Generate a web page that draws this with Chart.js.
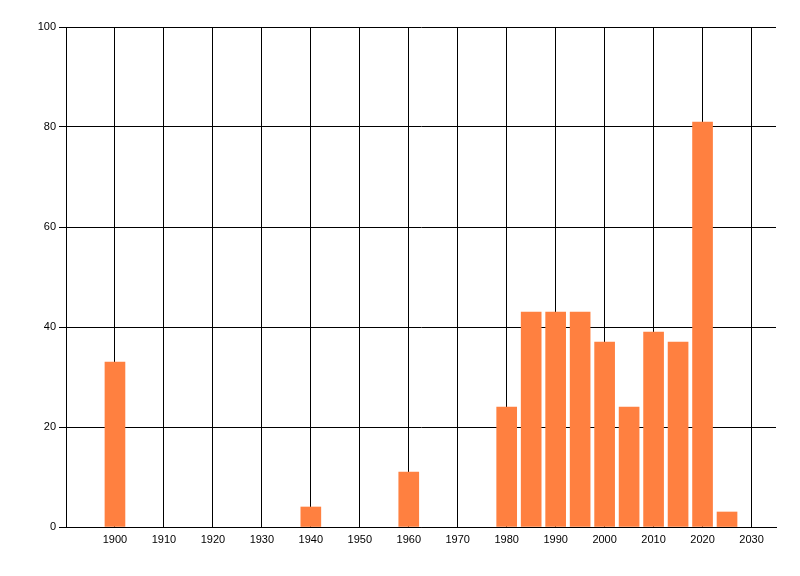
<!DOCTYPE html>
<html>
<head>
<meta charset="utf-8">
<script src="https://cdn.jsdelivr.net/npm/chart.js@4"></script>
<style>
html,body{margin:0;padding:0;background:#fff;}
#wrap{width:800px;height:576px;}
</style>
</head>
<body>
<div id="wrap"><canvas id="c" width="800" height="576"></canvas></div>
<script>
const years = [1900, 1940, 1960, 1980, 1985, 1990, 1995, 2000, 2005, 2010, 2015, 2020, 2025];
const counts = [33, 4, 11, 24, 43, 43, 43, 37, 24, 39, 37, 81, 3];
const xTicks = [1900, 1910, 1920, 1930, 1940, 1950, 1960, 1970, 1980, 1990, 2000, 2010, 2020, 2030];
const yTicks = [0, 20, 40, 60, 80, 100];

const font = {family: "'Liberation Sans', Arial, sans-serif", size: 11};

new Chart(document.getElementById('c'), {
  type: 'bar',
  data: {
    datasets: [{
      data: years.map((y, i) => ({x: y, y: counts[i]})),
      backgroundColor: '#FF8040',
      borderWidth: 0,
      barThickness: 20
    }]
  },
  options: {
    responsive: false,
    animation: false,
    layout: {padding: {left: 0, right: 24, top: 27, bottom: 0}},
    plugins: {legend: {display: false}, tooltip: {enabled: false}},
    scales: {
      x: {
        type: 'linear',
        min: 1890,
        max: 2035,
        offset: false,
        afterBuildTicks: s => { s.ticks = xTicks.map(v => ({value: v})); },
        afterFit: s => { s.height = 49; },
        grid: {color: '#000', lineWidth: 1, drawTicks: false, offset: false},
        border: {color: '#000', width: 1},
        ticks: {color: '#000', font: font, padding: 6, maxRotation: 0, autoSkip: false, callback: v => String(v)}
      },
      y: {
        min: 0,
        max: 100,
        afterBuildTicks: s => { s.ticks = yTicks.map(v => ({value: v})); },
        afterFit: s => { s.width = 66; },
        grid: {color: '#000', lineWidth: 1, tickLength: 7},
        border: {color: '#000', width: 1},
        ticks: {color: '#000', font: font, padding: 3}
      }
    }
  }
});
</script>
</body>
</html>
